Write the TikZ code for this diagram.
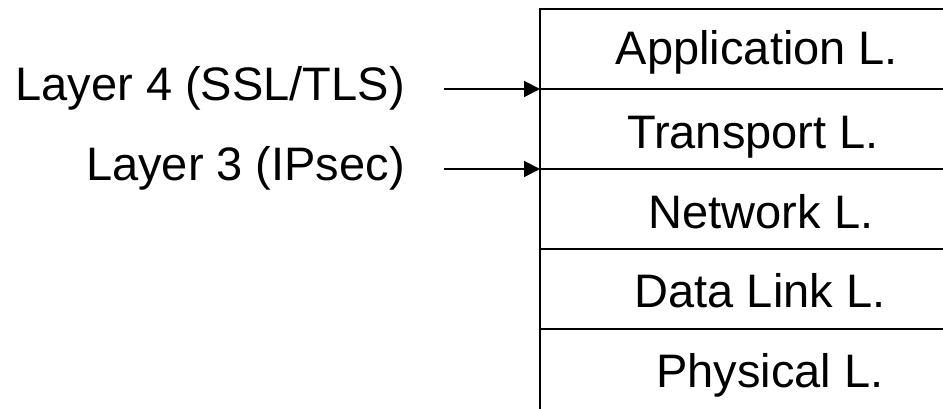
\documentclass[tikz,border=0pt]{standalone}
\usepackage{fontspec}
\setmainfont{Liberation Sans}
\usetikzlibrary{arrows.meta}
\begin{document}
\begin{tikzpicture}[x=1pt,y=1pt,
  lbl/.style={inner sep=0pt,font=\fontsize{47}{56}\selectfont},
  rule/.style={line width=2pt},
  arr/.style={line width=2pt,-{Triangle[length=16pt,width=16pt]}}]
\useasboundingbox (0,0) rectangle (943,408);
% stack outline (right and bottom edges lie outside the picture)
\coordinate (tl) at (540,399);
\coordinate (bl) at (540,-2);
\coordinate (tr) at (945,399);
\draw[rule] (tr) -- (tl) -- (bl);
\coordinate (s1l) at (540,319); \coordinate (s1r) at (945,319);
\coordinate (s2l) at (540,239); \coordinate (s2r) at (945,239);
\coordinate (s3l) at (540,159); \coordinate (s3r) at (945,159);
\coordinate (s4l) at (540,79);  \coordinate (s4r) at (945,79);
\draw[rule] (s1l) -- (s1r);
\draw[rule] (s2l) -- (s2r);
\draw[rule] (s3l) -- (s3r);
\draw[rule] (s4l) -- (s4r);
% layer labels
\node[lbl,anchor=base] (app) at (757,343) {Application L.};
\node[lbl,anchor=base] (tra) at (753,260) {Transport L.};
\node[lbl,anchor=base] (net) at (761,180) {Network L.};
\node[lbl,anchor=base] (dat) at (760,101) {Data Link L.};
\node[lbl,anchor=base] (phy) at (770,21) {Physical L.};
% left labels and arrows
\node[lbl,anchor=base east] (l4) at (405,308) {Layer 4 (SSL/TLS)};
\node[lbl,anchor=base east] (l3) at (405,228) {Layer 3 (IPsec)};
\coordinate (a4) at (444,319);
\coordinate (a3) at (444,239);
\draw[arr] (a4) -- (s1l);
\draw[arr] (a3) -- (s2l);
\end{tikzpicture}
\end{document}
